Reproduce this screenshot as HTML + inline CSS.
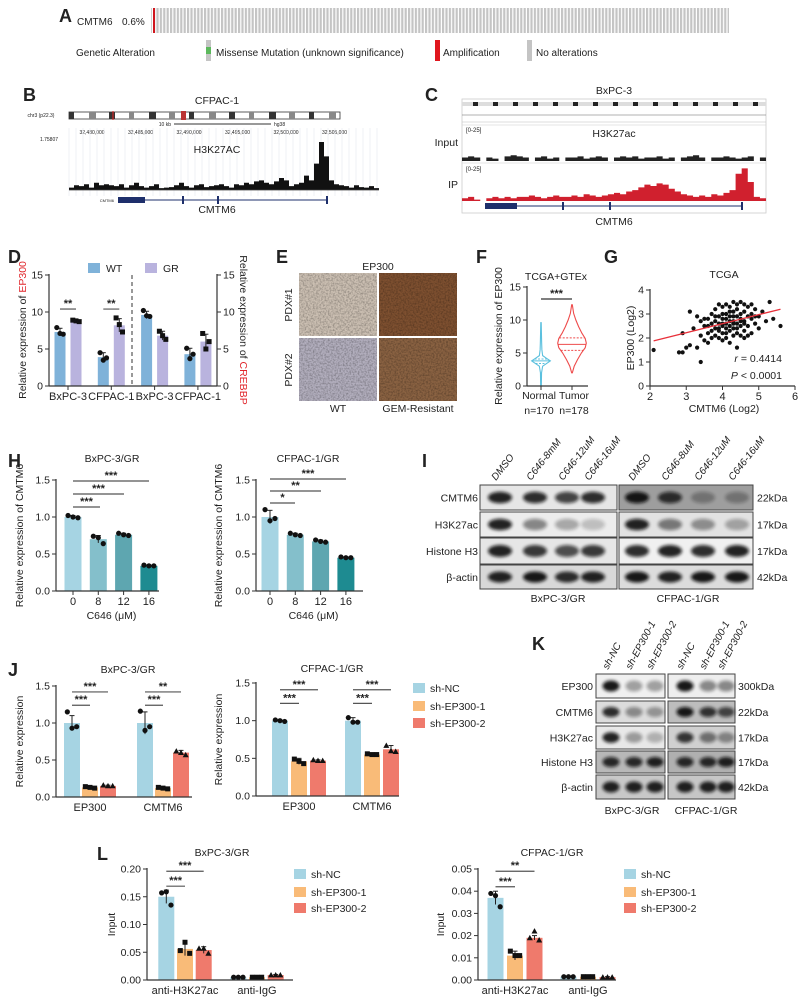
<!DOCTYPE html>
<html><head><meta charset="utf-8"><title>Figure</title>
<style>
html,body{margin:0;padding:0;background:#fff;}
svg{display:block;font-family:"Liberation Sans",Arial,sans-serif;}
text{fill:#222;}
</style></head>
<body>
<svg id="fig" width="798" height="1000" viewBox="0 0 798 1000" xmlns="http://www.w3.org/2000/svg">
<defs>
<filter id="blur" x="-30%" y="-60%" width="160%" height="220%"><feGaussianBlur stdDeviation="1.6"/></filter>
<filter id="tex" x="0" y="0" width="100%" height="100%">
<feTurbulence type="fractalNoise" baseFrequency="0.6" numOctaves="2" seed="3"/>
<feColorMatrix type="matrix" values="0 0 0 0 0  0 0 0 0 0  0 0 0 0 0  0 0 0 1.2 -0.45"/>
</filter>
<pattern id="strip" width="3.4" height="30" patternUnits="userSpaceOnUse"><rect x="0" y="0" width="2.2" height="30" fill="#c4c4c4"/></pattern>
</defs>
<rect x="0" y="0" width="798" height="1000" fill="#fff"/>
</svg>
<script>
// ---------- DATA ----------
const dCats = ['BxPC-3','CFPAC-1','BxPC-3','CFPAC-1'];
const dWT = [7.3, 3.9, 9.6, 4.3];
const dGR = [8.8, 8.2, 6.8, 6.0];
const dWTErr = [0.5, 0.6, 0.5, 0.8];
const dGRErr = [0.2, 0.9, 0.6, 1.0];
const dWTPts = [[7.9,7.1,7.0],[4.5,3.5,3.8],[10.2,9.5,9.4],[5.1,3.7,4.3]];
const dGRPts = [[8.9,8.8,8.7],[9.2,8.3,7.3],[7.4,6.8,6.3],[7.1,5.0,6.0]];

const hCats = ['0','8','12','16'];
const hBxVals = [1.0, 0.70, 0.76, 0.34];
const hBxErr = [0.02, 0.05, 0.02, 0.01];
const hBxPts = [[1.02,1.0,0.99],[0.74,0.72,0.64],[0.78,0.76,0.75],[0.35,0.34,0.34]];
const hCfVals = [1.0, 0.76, 0.67, 0.45];
const hCfErr = [0.09, 0.02, 0.02, 0.01];
const hCfPts = [[1.1,0.95,0.98],[0.78,0.76,0.75],[0.69,0.67,0.66],[0.46,0.45,0.45]];

const jCats = ['EP300','CMTM6'];
const jBxNC = [1.0, 1.0];   const jBxNCErr = [0.1, 0.15];
const jBx1 = [0.13, 0.12];  const jBx1Err = [0.01, 0.01];
const jBx2 = [0.15, 0.60];  const jBx2Err = [0.01, 0.03];
const jCfNC = [1.0, 1.0];   const jCfNCErr = [0.01, 0.04];
const jCf1 = [0.46, 0.55];  const jCf1Err = [0.04, 0.01];
const jCf2 = [0.47, 0.62];  const jCf2Err = [0.01, 0.05];

const lCats = ['anti-H3K27ac','anti-IgG'];
const lBxNC = [0.15, 0.005];  const lBxNCErr = [0.012, 0.0005];
const lBx1 = [0.056, 0.005];  const lBx1Err = [0.012, 0.0005];
const lBx2 = [0.054, 0.009];  const lBx2Err = [0.006, 0.001];
const lCfNC = [0.037, 0.0015]; const lCfNCErr = [0.003, 0.0002];
const lCf1 = [0.011, 0.0015];  const lCf1Err = [0.002, 0.0002];
const lCf2 = [0.019, 0.0013];  const lCf2Err = [0.001, 0.0002];

const fNormalLevels = [0.0, 2.0, 3.0, 3.4, 3.8, 4.2, 4.6, 5.5, 6.5, 8.0, 9.6];
const fNormalWidth  = [0.3, 0.5, 1.5, 5.0, 8.5, 5.0, 1.5, 0.8, 0.6, 0.4, 0.2];
const fTumorLevels = [2.0, 3.0, 4.0, 5.0, 5.8, 6.5, 7.2, 8.0, 9.0, 10.0, 11.0, 12.3];
const fTumorWidth  = [0.3, 2.0, 5.0, 8.5, 12.0, 13.0, 12.0, 9.0, 6.0, 3.5, 1.5, 0.3];
const fNormalStats = [3.4, 3.8, 4.1];
const fTumorStats = [5.4, 6.3, 7.3];

const gPoints = [[2.1,1.5],[2.8,1.4],[2.9,2.2],[2.9,1.4],[3.0,1.6],[3.1,1.7],[3.2,2.4],[3.3,1.6],[3.4,1.0],[3.4,2.1],[3.5,2.5],[3.5,1.9],[3.6,2.8],[3.6,2.2],[3.6,1.8],[3.7,2.6],[3.7,2.3],[3.7,3.0],[3.8,2.1],[3.8,2.7],[3.8,2.4],[3.8,3.2],[3.9,2.0],[3.9,2.6],[3.9,2.9],[3.9,2.3],[4.0,2.5],[4.0,2.8],[4.0,3.3],[4.0,2.2],[4.0,1.9],[4.1,2.6],[4.1,3.0],[4.1,2.4],[4.1,2.0],[4.1,3.4],[4.2,2.7],[4.2,2.3],[4.2,3.1],[4.2,2.5],[4.2,1.8],[4.3,2.9],[4.3,2.4],[4.3,3.5],[4.3,2.1],[4.3,2.7],[4.4,2.6],[4.4,3.2],[4.4,2.2],[4.4,2.9],[4.4,1.6],[4.5,2.5],[4.5,3.0],[4.5,2.8],[4.5,3.5],[4.6,2.7],[4.6,2.3],[4.6,3.1],[4.6,2.0],[4.7,2.9],[4.7,2.5],[4.7,3.3],[4.8,2.8],[4.8,2.2],[4.8,3.0],[4.9,2.6],[4.9,3.2],[5.0,2.9],[5.0,2.4],[5.1,3.1],[5.2,2.7],[5.3,3.5],[5.4,2.8],[5.6,2.5],[3.1,3.1],[3.3,2.9],[3.6,2.5],[3.9,3.4],[4.1,2.8],[4.3,3.1],[4.5,2.1],[4.7,2.1],[3.5,2.8],[4.0,3.0],[4.2,3.3],[4.4,3.4],[4.6,3.4],[3.8,2.9],[4.1,2.2],[4.3,2.6],[3.7,2.0],[4.9,2.9],[4.0,2.6],[4.2,2.9],[4.5,2.7],[4.8,3.4],[3.4,2.7],[4.6,2.6],[4.4,2.4],[3.9,2.4]];
const gFit = [[2.1,1.88],[5.6,3.2]];

const bCov = [0.05,0.1,0.08,0.12,0.05,0.15,0.1,0.12,0.1,0.08,0.12,0.05,0.1,0.15,0.08,0.05,0.08,0.12,0.04,0.05,0.06,0.1,0.15,0.08,0.05,0.1,0.12,0.06,0.08,0.1,0.12,0.08,0.05,0.12,0.1,0.15,0.12,0.18,0.2,0.15,0.12,0.18,0.25,0.2,0.08,0.12,0.15,0.3,0.2,0.55,1.0,0.7,0.2,0.12,0.1,0.08,0.05,0.1,0.06,0.05,0.08,0.04];
const cInput = [3,4,3,0,3,2,0,4,5,4,3,0,3,4,2,3,0,3,3,4,2,3,4,3,0,3,4,3,4,2,3,3,4,2,3,0,3,4,5,3,0,3,3,4,3,2,3,4,0,3];
const cIP = [2,3,1,0,2,3,2,3,2,3,3,4,3,2,3,4,3,3,4,3,5,4,3,4,5,6,5,7,8,10,12,11,13,12,9,7,5,4,3,4,3,5,4,6,8,20,24,14,3,2];

const iLanes = ['DMSO','C646-8mM','C646-12uM','C646-16uM','DMSO','C646-8uM','C646-12uM','C646-16uM'];
const iRows = ['CMTM6','H3K27ac','Histone H3','β-actin'];
const iKda = ['22kDa','17kDa','17kDa','42kDa'];
const iBands = [[0.9,0.85,0.75,0.85,0.95,0.8,0.3,0.3],[0.9,0.45,0.3,0.2,0.9,0.5,0.4,0.3],[0.9,0.8,0.7,0.8,0.85,0.9,0.85,0.9],[0.9,0.95,0.85,0.9,0.95,0.9,0.95,0.95]];
const kLanes = ['sh-NC','sh-EP300-1','sh-EP300-2','sh-NC','sh-EP300-1','sh-EP300-2'];
const kRows = ['EP300','CMTM6','H3K27ac','Histone H3','β-actin'];
const kKda = ['300kDa','22kDa','17kDa','17kDa','42kDa'];
const kBands = [[0.95,0.35,0.35,0.95,0.45,0.45],[0.85,0.4,0.35,0.95,0.8,0.7],[0.9,0.35,0.25,0.8,0.5,0.4],[0.85,0.85,0.9,0.85,0.85,0.9],[0.9,0.9,0.9,0.9,0.9,0.9]];

// ---------- HELPERS ----------
const NS = 'http://www.w3.org/2000/svg';
const svg = document.getElementById('fig');
function el(tag, attrs, parent, name) {
  const e = document.createElementNS(NS, tag);
  for (const k in attrs) e.setAttribute(k, attrs[k]);
  
  
  (parent || svg).appendChild(e);
  return e;
}
function T(parent, x, y, s, name, size, anchor, extra) {
  const a = {x: x, y: y, 'font-size': size || 10, 'text-anchor': anchor || 'middle'};
  if (extra) for (const k in extra) a[k] = extra[k];
  const e = el('text', a, parent, name);
  e.textContent = s;
  return e;
}
function L(parent, x1, y1, x2, y2, name, stroke, w, dash) {
  const a = {x1: x1, y1: y1, x2: x2, y2: y2, stroke: stroke || '#333', 'stroke-width': w || 1};
  if (dash) a['stroke-dasharray'] = dash;
  return el('line', a, parent, name);
}
function letter(x, y, s) { T(svg, x, y + 1, s, 'panel-label-' + s.toLowerCase(), 18, 'start', {'font-weight': 'bold', fill: '#111'}); }
function marker(parent, type, x, y, name) {
  if (type === 'circle') return el('circle', {cx: x, cy: y, r: 2.6, fill: '#111'}, parent, name);
  if (type === 'square') return el('rect', {x: x - 2.5, y: y - 2.5, width: 5, height: 5, fill: '#111'}, parent, name);
  return el('polygon', {points: (x) + ',' + (y - 3) + ' ' + (x - 3) + ',' + (y + 2.4) + ' ' + (x + 3) + ',' + (y + 2.4), fill: '#111'}, parent, name);
}
const ptOff = [-3.5, 0, 3.5];

function barChart(c) {
  const g = el('g', {}, svg, c.name);
  const ys = v => c.y0 - v / c.ymax * (c.y0 - c.yTop);
  const n = c.series.length;
  const xc = (gi, si) => c.gx0 + gi * c.gstep + (si - (n - 1) / 2) * c.boff;
  c.series.forEach((s, si) => {
    s.vals.forEach((v, gi) => {
      const cx = xc(gi, si);
      const col = s.colors ? s.colors[gi] : s.color;
      el('rect', {x: cx - c.bw / 2, y: ys(v), width: c.bw, height: c.y0 - ys(v), fill: col}, g, 'bar-' + s.key + '-' + c.cats[gi].toLowerCase());
      if (s.err) {
        const e = s.err[gi];
        L(g, cx, ys(v + e), cx, ys(Math.max(0, v - e)), 'error-bar', '#222', 1);
        L(g, cx - 2.5, ys(v + e), cx + 2.5, ys(v + e), 'error-cap', '#222', 1);
      }
      const pts = s.pts ? s.pts[gi] : [v, v, v];
      pts.forEach((p, k) => marker(g, s.marker, cx + ptOff[k] * (c.bw / 12), ys(p), 'data-point'));
    });
  });
  L(g, c.axisX, c.yTop - 1, c.axisX, c.y0, 'y-axis', '#333', 1.2);
  L(g, c.axisX, c.y0, c.axisEnd, c.y0, 'x-axis', '#333', 1.2);
  c.ticks.forEach(t => {
    L(g, c.axisX - 4, ys(t), c.axisX, ys(t), 'y-tick', '#333', 1);
    T(g, c.axisX - 6, ys(t) + 3.5, t.toFixed(c.dec), 'y-tick-label', 10.5, 'end');
  });
  c.cats.forEach((cat, gi) => {
    const cx = c.gx0 + gi * c.gstep;
    if (c.xTicks) L(g, cx, c.y0, cx, c.y0 + 4, 'x-tick', '#333', 1);
    T(g, cx, c.y0 + 14, cat, 'x-tick-label', 11);
  });
  (c.sig || []).forEach(s => {
    const x1 = xc(s[0], s[1]), x2 = xc(s[0], s[2]), y = ys(s[3]);
    L(g, x1, y, x2, y, 'significance-bar', '#555', 1.2);
    T(g, (x1 + x2) / 2, y - 2, s[4], 'significance-stars', 11, 'middle', {'font-weight': 'bold'});
  });
  if (c.title) T(g, c.titleX, c.titleY, c.title, 'chart-title', 10.5);
  if (c.ylabel) T(g, c.ylabelX, (c.y0 + c.yTop) / 2, c.ylabel, 'y-axis-title', 10.5, 'middle', {transform: 'rotate(-90 ' + c.ylabelX + ' ' + ((c.y0 + c.yTop) / 2) + ')'});
  if (c.xlabel) T(g, (c.axisX + c.axisEnd) / 2 + 4, c.y0 + 28, c.xlabel, 'x-axis-title', 10.5);
  return ys;
}
function legend(x, ys, labels, colors, name) {
  const g = el('g', {}, svg, name);
  labels.forEach((lab, i) => {
    el('rect', {x: x, y: ys[i] - 5, width: 12, height: 10, fill: colors[i]}, g, 'legend-swatch');
    T(g, x + 17, ys[i] + 4, lab, 'legend-entry', 10.5, 'start');
  });
}
function blot(x, y, w, h, centers, vals, bg, bw, name) {
  const g = el('g', {}, svg, name);
  el('rect', {x: x, y: y, width: w, height: h, fill: bg, stroke: '#444', 'stroke-width': 1}, g, 'blot-frame');
  centers.forEach((cx, i) => {
    el('ellipse', {cx: cx, cy: y + h / 2, rx: bw / 2, ry: h * 0.23, fill: '#111', opacity: vals[i], filter: 'url(#blur)'}, g, 'blot-band');
  });
}

// ---------- PANEL A ----------
letter(59, 21, 'A');
T(svg, 77, 25, 'CMTM6', 'gene-label', 10, 'start');
T(svg, 122, 25, '0.6%', 'alteration-frequency', 10, 'start');
el('rect', {x: 151, y: 8, width: 578, height: 25, fill: 'url(#strip)'}, svg, 'oncoprint-strip');
el('rect', {x: 153, y: 8, width: 2, height: 25, fill: '#d0161e'}, svg, 'amplification-sample');
T(svg, 76, 56, 'Genetic Alteration', 'legend-title', 10, 'start');
el('rect', {x: 206, y: 40, width: 5, height: 21, fill: '#c4c4c4'}, svg, 'legend-swatch-missense');
el('rect', {x: 206, y: 47, width: 5, height: 7, fill: '#5cb85c'}, svg, 'legend-swatch-missense-core');
T(svg, 216, 56, 'Missense Mutation (unknown significance)', 'legend-entry-missense', 10, 'start');
el('rect', {x: 435, y: 40, width: 5, height: 21, fill: '#e0161e'}, svg, 'legend-swatch-amplification');
T(svg, 443, 56, 'Amplification', 'legend-entry-amplification', 10, 'start');
el('rect', {x: 527, y: 40, width: 5, height: 21, fill: '#c4c4c4'}, svg, 'legend-swatch-no-alterations');
T(svg, 536, 56, 'No alterations', 'legend-entry-no-alterations', 10, 'start');

// ---------- PANEL B ----------
letter(23, 100, 'B');
(function () {
  const g = el('g', {}, svg, 'ucsc-track-b');
  T(g, 217, 104, 'CFPAC-1', 'track-title', 10.5);
  T(g, 41, 117, 'chr3 (p22.3)', 'chromosome-label', 5, 'middle');
  el('rect', {x: 69, y: 112, width: 271, height: 7, fill: '#fff', stroke: '#333', 'stroke-width': 0.8}, g, 'ideogram');
  for (let i = 0; i < 27; i++) {
    if (i % 2 === 0) el('rect', {x: 69 + i * 10, y: 112, width: 5 + (i % 3), height: 7, fill: i % 4 === 0 ? '#333' : '#888'}, g, 'ideogram-band');
  }
  el('rect', {x: 181, y: 111, width: 5, height: 9, fill: '#b33'}, g, 'centromere');
  L(g, 113, 111, 113, 120, 'ideogram-position', '#e22', 1);
  L(g, 174, 124, 271, 124, 'scale-bar', '#333', 1);
  T(g, 171, 126, '10 kb', 'scale-label', 5, 'end');
  T(g, 274, 126, 'hg38', 'assembly-label', 5, 'start');
  const coords = ['32,480,000', '32,485,000', '32,490,000', '32,495,000', '32,500,000', '32,505,000'];
  coords.forEach((s, i) => T(g, 92 + i * 48.5, 134, s, 'coordinate-label', 5, 'middle'));
  for (let i = 0; i < 45; i++) L(g, 69 + i * 7, 128, 69 + i * 7, 196, 'grid-line', '#e4e6ee', 0.6);
  T(g, 49, 141, '1.75807', 'track-max', 5, 'middle');
  T(g, 217, 153, 'H3K27AC', 'track-label', 10.5);
  const x0 = 69, x1 = 379, base = 190, hpx = 48, bw = (x1 - x0) / bCov.length;
  let d = 'M' + x0 + ',' + base;
  bCov.forEach((v, i) => { d += ' L' + (x0 + i * bw) + ',' + (base - v * hpx) + ' L' + (x0 + (i + 1) * bw) + ',' + (base - v * hpx); });
  d += ' L' + x1 + ',' + base + ' Z';
  el('path', {d: d, fill: '#111'}, g, 'h3k27ac-coverage');
  L(g, x0, base, x1, base, 'track-baseline', '#444', 0.8);
  L(g, 118, 200, 327, 200, 'gene-intron', '#1e2f6b', 1);
  el('rect', {x: 118, y: 197, width: 27, height: 6, fill: '#1e2f6b'}, g, 'gene-exon');
  [183, 218, 327].forEach((xx) => el('rect', {x: xx - 1, y: 196, width: 2, height: 8, fill: '#1e2f6b'}, g, 'gene-exon'));
  T(g, 114, 202, 'CMTM6', 'gene-name-small', 4, 'end', {fill: '#1e2f6b'});
  T(g, 217, 213, 'CMTM6', 'gene-name', 10.5, 'middle', {fill: '#1e2f6b'});
})();

// ---------- PANEL C ----------
letter(425, 100, 'C');
(function () {
  const g = el('g', {}, svg, 'igv-track-c');
  T(g, 614, 94, 'BxPC-3', 'track-title', 10.5);
  el('rect', {x: 462, y: 99, width: 304, height: 114, fill: '#fff', stroke: '#ccc', 'stroke-width': 0.8}, g, 'igv-frame');
  el('rect', {x: 462, y: 102, width: 304, height: 4, fill: '#ddd'}, g, 'igv-ideogram');
  for (let i = 0; i < 30; i++) if (i % 2) el('rect', {x: 463 + i * 10, y: 102, width: 5, height: 4, fill: '#222'}, g, 'igv-band');
  L(g, 462, 115, 766, 115, 'igv-ruler', '#666', 0.6);
  L(g, 462, 122, 766, 122, 'igv-ruler', '#bbb', 0.6);
  L(g, 462, 125, 766, 125, 'igv-divider', '#ccc', 0.6);
  T(g, 458, 146, 'Input', 'input-track-label', 10.5, 'end');
  T(g, 614, 137, 'H3K27ac', 'track-label', 10.5);
  T(g, 466, 132, '[0-25]', 'range-label', 6, 'start');
  T(g, 466, 171, '[0-25]', 'range-label', 6, 'start');
  T(g, 458, 188, 'IP', 'ip-track-label', 10.5, 'end');
  L(g, 462, 163, 766, 163, 'track-divider', '#ccc', 0.6);
  function cov(arr, base, hpx, color, name) {
    const x0 = 462, x1 = 766, bw = (x1 - x0) / arr.length;
    let d = 'M' + x0 + ',' + base;
    arr.forEach((v, i) => { const y = base - v / 25 * hpx; d += ' L' + (x0 + i * bw) + ',' + y + ' L' + (x0 + (i + 1) * bw) + ',' + y; });
    d += ' L' + x1 + ',' + base + ' Z';
    el('path', {d: d, fill: color}, g, name);
  }
  cov(cInput, 161, 29, '#222', 'input-coverage');
  cov(cIP, 201, 34, '#d0202e', 'ip-coverage');
  L(g, 485, 206, 742, 206, 'gene-intron', '#1e2f6b', 1);
  el('rect', {x: 485, y: 203, width: 32, height: 6, fill: '#1e2f6b'}, g, 'gene-exon');
  [563, 610, 742].forEach(xx => el('rect', {x: xx - 1, y: 202, width: 2, height: 8, fill: '#1e2f6b'}, g, 'gene-exon'));
  T(g, 614, 225, 'CMTM6', 'gene-name', 10.5, 'middle', {fill: '#1e2f6b'});
})();

// ---------- PANEL D ----------
letter(8, 262, 'D');
const dYs = barChart({name: 'chart-d', cats: dCats, y0: 386, yTop: 275, ymax: 15, axisX: 49, axisEnd: 217,
  gx0: 68, gstep: 43.3, boff: 16, bw: 11, ticks: [0, 5, 10, 15], dec: 0, xTicks: true,
  series: [{key: 'wt', vals: dWT, err: dWTErr, pts: dWTPts, color: '#7fb2d9', marker: 'circle'},
           {key: 'gr', vals: dGR, err: dGRErr, pts: dGRPts, color: '#b9b3de', marker: 'square'}],
  sig: [[0, 0, 1, 10.4, '**'], [1, 0, 1, 10.4, '**']]});
(function () {
  const g = el('g', {}, svg, 'chart-d-extras');
  L(g, 132, 275, 132, 386, 'divider-dashed', '#333', 1, '4,3');
  L(g, 217, 274, 217, 386, 'right-y-axis', '#333', 1.2);
  [0, 5, 10, 15].forEach(t => {
    L(g, 217, dYs(t), 221, dYs(t), 'right-y-tick', '#333', 1);
    T(g, 223, dYs(t) + 3.5, String(t), 'right-y-tick-label', 10.5, 'start');
  });
  const ly = 330;
  const t1 = T(g, 26, ly, '', 'y-axis-title', 10.5, 'middle', {transform: 'rotate(-90 26 ' + ly + ')'});
  const s1 = el('tspan', {}, t1, 'y-axis-title-prefix'); s1.textContent = 'Relative expression of ';
  const s2 = el('tspan', {fill: '#e0262b'}, t1, 'y-axis-title-gene'); s2.textContent = 'EP300';
  const t2 = T(g, 240, ly, '', 'right-y-axis-title', 10.5, 'middle', {transform: 'rotate(90 240 ' + ly + ')'});
  const s3 = el('tspan', {}, t2, 'right-y-axis-title-prefix'); s3.textContent = 'Relative expression of ';
  const s4 = el('tspan', {fill: '#e0262b'}, t2, 'right-y-axis-title-gene'); s4.textContent = 'CREBBP';
})();
(function () {
  const g = el('g', {}, svg, 'legend-d');
  el('rect', {x: 88, y: 263, width: 12, height: 10, fill: '#7fb2d9'}, g, 'legend-swatch-wt');
  T(g, 106, 272, 'WT', 'legend-entry-wt', 10.5, 'start');
  el('rect', {x: 145, y: 263, width: 12, height: 10, fill: '#b9b3de'}, g, 'legend-swatch-gr');
  T(g, 163, 272, 'GR', 'legend-entry-gr', 10.5, 'start');
})();

// ---------- PANEL E ----------
letter(276, 262, 'E');
(function () {
  const g = el('g', {}, svg, 'ihc-panel-e');
  T(g, 378, 270, 'EP300', 'ihc-title', 10.5);
  const tiles = [[299, 273, '#cbbfb2', 'pdx1-wt'], [379, 273, '#7e5030', 'pdx1-gem-resistant'], [299, 338, '#b2aebd', 'pdx2-wt'], [379, 338, '#8a6242', 'pdx2-gem-resistant']];
  tiles.forEach(t => {
    el('rect', {x: t[0], y: t[1], width: 78, height: 63, fill: t[2]}, g, 'ihc-image-' + t[3]);
    el('rect', {x: t[0], y: t[1], width: 78, height: 63, fill: '#000', filter: 'url(#tex)', opacity: 0.5}, g, 'ihc-texture');
  });
  T(g, 292, 305, 'PDX#1', 'row-label-pdx1', 10.5, 'middle', {transform: 'rotate(-90 292 305)'});
  T(g, 292, 370, 'PDX#2', 'row-label-pdx2', 10.5, 'middle', {transform: 'rotate(-90 292 370)'});
  T(g, 338, 412, 'WT', 'column-label-wt', 10.5);
  T(g, 418, 412, 'GEM-Resistant', 'column-label-gem-resistant', 10.5);
})();

// ---------- PANEL F ----------
letter(476, 262, 'F');
(function () {
  const g = el('g', {}, svg, 'violin-chart-f');
  const y0 = 386, yTop = 287, ys = v => y0 - v / 15 * (y0 - yTop);
  const axisX = 527, axisEnd = 588, xN = 541, xT = 572;
  T(g, 556, 280, 'TCGA+GTEx', 'chart-title', 10.5);
  function violin(cx, lev, wid, col, stats, name) {
    const sc = 1.1;
    let d = 'M' + cx + ',' + ys(lev[0]);
    lev.forEach((v, i) => { d += ' L' + (cx + wid[i] * sc) + ',' + ys(v); });
    for (let i = lev.length - 1; i >= 0; i--) d += ' L' + (cx - wid[i] * sc) + ',' + ys(lev[i]);
    d += ' Z';
    el('path', {d: d, fill: 'none', stroke: col, 'stroke-width': 1.1}, g, name);
    stats.forEach((s, k) => {
      let w = 0; for (let i = 0; i < lev.length - 1; i++) if (s >= lev[i] && s <= lev[i + 1]) w = wid[i] + (wid[i + 1] - wid[i]) * (s - lev[i]) / (lev[i + 1] - lev[i]);
      L(g, cx - w * sc, ys(s), cx + w * sc, ys(s), k === 1 ? 'median-line' : 'quartile-line', col, 1, k === 1 ? null : '2,1.5');
    });
  }
  violin(xN, fNormalLevels, fNormalWidth, '#5bc0de', fNormalStats, 'violin-normal');
  violin(xT, fTumorLevels, fTumorWidth, '#ee4b4b', fTumorStats, 'violin-tumor');
  L(g, axisX, yTop - 1, axisX, y0, 'y-axis', '#333', 1.2);
  L(g, axisX, y0, axisEnd, y0, 'x-axis', '#333', 1.2);
  [0, 5, 10, 15].forEach(t => { L(g, axisX - 4, ys(t), axisX, ys(t), 'y-tick', '#333', 1); T(g, axisX - 6, ys(t) + 3.5, String(t), 'y-tick-label', 10.5, 'end'); });
  L(g, xN, y0, xN, y0 + 4, 'x-tick', '#333', 1); L(g, xT, y0, xT, y0 + 4, 'x-tick', '#333', 1);
  T(g, xN - 2, 399, 'Normal', 'x-tick-label-normal', 10.5); T(g, xT + 2, 399, 'Tumor', 'x-tick-label-tumor', 10.5);
  T(g, xN - 2, 414, 'n=170', 'n-normal', 10.5); T(g, xT + 2, 414, 'n=178', 'n-tumor', 10.5);
  L(g, xN, 299, xT, 299, 'significance-bar', '#333', 1.2);
  T(g, (xN + xT) / 2, 297, '***', 'significance-stars', 11, 'middle', {'font-weight': 'bold'});
  T(g, 502, 336, 'Relative expression of EP300', 'y-axis-title', 10.5, 'middle', {transform: 'rotate(-90 502 336)'});
})();

// ---------- PANEL G ----------
letter(604, 262, 'G');
(function () {
  const g = el('g', {}, svg, 'scatter-chart-g');
  const xs = v => 650 + (v - 2) * 36.25, ys = v => 386 - v * 24;
  T(g, 724, 278, 'TCGA', 'chart-title', 10.5);
  gPoints.forEach(p => el('circle', {cx: xs(p[0]), cy: ys(p[1]), r: 2.1, fill: '#111'}, g, 'scatter-point'));
  L(g, xs(gFit[0][0]), ys(gFit[0][1]), xs(gFit[1][0]), ys(gFit[1][1]), 'regression-line', '#e8303a', 1.3);
  L(g, 650, ys(4) - 1, 650, 386, 'y-axis', '#333', 1.2);
  L(g, 650, 386, 795, 386, 'x-axis', '#333', 1.2);
  [0, 1, 2, 3, 4].forEach(t => { L(g, 646, ys(t), 650, ys(t), 'y-tick', '#333', 1); T(g, 644, ys(t) + 3.5, String(t), 'y-tick-label', 10.5, 'end'); });
  [2, 3, 4, 5, 6].forEach(t => { L(g, xs(t), 386, xs(t), 390, 'x-tick', '#333', 1); T(g, xs(t), 400, String(t), 'x-tick-label', 11); });
  T(g, 724, 412, 'CMTM6 (Log2)', 'x-axis-title', 10.5);
  T(g, 634, 338, 'EP300 (Log2)', 'y-axis-title', 10.5, 'middle', {transform: 'rotate(-90 634 338)'});
  const r = T(g, 782, 362, '', 'correlation-r', 10.5, 'end');
  const r1 = el('tspan', {'font-style': 'italic'}, r, 'r-symbol'); r1.textContent = 'r';
  const r2 = el('tspan', {}, r, 'r-value'); r2.textContent = ' = 0.4414';
  const p = T(g, 782, 379, '', 'p-value', 10.5, 'end');
  const p1 = el('tspan', {'font-style': 'italic'}, p, 'p-symbol'); p1.textContent = 'P';
  const p2 = el('tspan', {}, p, 'p-text'); p2.textContent = ' < 0.0001';
})();

// ---------- PANEL H ----------
letter(8, 466, 'H');
const hBlues = ['#a6d4e3', '#84bfcb', '#5ea6b0', '#1e8b91'];
barChart({name: 'chart-h-bxpc3', cats: hCats, y0: 591, yTop: 480, ymax: 1.5, axisX: 56, axisEnd: 159,
  gx0: 73, gstep: 25.3, boff: 0, bw: 17, ticks: [0, 0.5, 1.0, 1.5], dec: 1, xTicks: true,
  series: [{key: 'cmtm6', vals: hBxVals, err: hBxErr, pts: hBxPts, colors: hBlues, marker: 'circle'}],
  title: 'BxPC-3/GR', titleX: 112, titleY: 462, ylabel: 'Relative expression of CMTM6', ylabelX: 23, xlabel: 'C646 (μM)',
  sig: []});
barChart({name: 'chart-h-cfpac1', cats: hCats, y0: 591, yTop: 480, ymax: 1.5, axisX: 256, axisEnd: 363,
  gx0: 270, gstep: 25.3, boff: 0, bw: 17, ticks: [0, 0.5, 1.0, 1.5], dec: 1, xTicks: true,
  series: [{key: 'cmtm6', vals: hCfVals, err: hCfErr, pts: hCfPts, colors: hBlues, marker: 'circle'}],
  title: 'CFPAC-1/GR', titleX: 308, titleY: 462, ylabel: 'Relative expression of CMTM6', ylabelX: 222, xlabel: 'C646 (μM)',
  sig: []});
(function () {
  const g = el('g', {}, svg, 'chart-h-significance');
  const hSig = [[73, 149, 481, '***'], [73, 124, 494, '***'], [73, 100, 507, '***'], [270, 346, 479, '***'], [270, 321, 491, '**'], [270, 295, 503, '*']];
  hSig.forEach(s => { L(g, s[0], s[2], s[1], s[2], 'significance-bar', '#555', 1.2); T(g, (s[0] + s[1]) / 2, s[2] - 2, s[3], 'significance-stars', 11, 'middle', {'font-weight': 'bold'}); });
})();

// ---------- PANEL I ----------
letter(422, 466, 'I');
(function () {
  const centers = [500, 535, 567, 593, 637, 670, 703, 737];
  const rowsY = [[485, 25], [512, 25], [538, 26], [565, 24]];
  const bgs = [['#e6e6e6', '#9e9e9e'], ['#ececec', '#e2e2e2'], ['#e6e6e6', '#f0f0f0'], ['#d8d8d8', '#dcdcdc']];
  iRows.forEach((r, ri) => {
    const y = rowsY[ri][0], h = rowsY[ri][1];
    blot(480, y, 137, h, centers.slice(0, 4), iBands[ri].slice(0, 4), bgs[ri][0], 24, 'blot-i-bxpc3-' + r.toLowerCase().replace(/\s/g, '-'));
    blot(619, y, 134, h, centers.slice(4), iBands[ri].slice(4), bgs[ri][1], 24, 'blot-i-cfpac1-' + r.toLowerCase().replace(/\s/g, '-'));
    T(svg, 478, y + h / 2 + 4, r, 'blot-row-label', 10.5, 'end');
    T(svg, 757, y + h / 2 + 4, iKda[ri], 'blot-kda-label', 10.5, 'start');
  });
  iLanes.forEach((s, i) => T(svg, centers[i] - 4, 481, s, 'lane-label', 10, 'start', {transform: 'rotate(-52 ' + (centers[i] - 4) + ' 481)', 'font-style': 'italic'}));
  T(svg, 558, 602, 'BxPC-3/GR', 'blot-group-label', 10.5);
  T(svg, 688, 602, 'CFPAC-1/GR', 'blot-group-label', 10.5);
})();

// ---------- PANEL J ----------
letter(8, 675, 'J');
const shColors = ['#a6d4e3', '#f9bb78', '#ef7a6c'];
barChart({name: 'chart-j-bxpc3', cats: jCats, y0: 797, yTop: 686, ymax: 1.5, axisX: 56, axisEnd: 192,
  gx0: 90, gstep: 73, boff: 18, bw: 16, ticks: [0, 0.5, 1.0, 1.5], dec: 1,
  series: [{key: 'sh-nc', vals: jBxNC, err: jBxNCErr, pts: [[1.15, 0.93, 0.95], [1.16, 0.9, 0.95]], color: shColors[0], marker: 'circle'},
           {key: 'sh-ep300-1', vals: jBx1, err: jBx1Err, pts: [[0.14, 0.13, 0.12], [0.13, 0.12, 0.11]], color: shColors[1], marker: 'square'},
           {key: 'sh-ep300-2', vals: jBx2, err: jBx2Err, pts: [[0.16, 0.15, 0.15], [0.62, 0.60, 0.57]], color: shColors[2], marker: 'triangle'}],
  sig: [[0, 0, 2, 1.42, '***'], [0, 0, 1, 1.24, '***'], [1, 0, 2, 1.42, '**'], [1, 0, 1, 1.24, '***']],
  title: 'BxPC-3/GR', titleX: 128, titleY: 673, ylabel: 'Relative expression', ylabelX: 23});
barChart({name: 'chart-j-cfpac1', cats: jCats, y0: 796, yTop: 683, ymax: 1.5, axisX: 256, axisEnd: 399,
  gx0: 299, gstep: 73, boff: 19, bw: 16, ticks: [0, 0.5, 1.0, 1.5], dec: 1,
  series: [{key: 'sh-nc', vals: jCfNC, err: jCfNCErr, pts: [[1.01, 1.0, 0.99], [1.04, 0.98, 0.98]], color: shColors[0], marker: 'circle'},
           {key: 'sh-ep300-1', vals: jCf1, err: jCf1Err, pts: [[0.49, 0.46, 0.43], [0.56, 0.55, 0.55]], color: shColors[1], marker: 'square'},
           {key: 'sh-ep300-2', vals: jCf2, err: jCf2Err, pts: [[0.48, 0.47, 0.47], [0.67, 0.60, 0.59]], color: shColors[2], marker: 'triangle'}],
  sig: [[0, 0, 2, 1.41, '***'], [0, 0, 1, 1.23, '***'], [1, 0, 2, 1.41, '***'], [1, 0, 1, 1.23, '***']],
  title: 'CFPAC-1/GR', titleX: 332, titleY: 672, ylabel: 'Relative expression', ylabelX: 222});
legend(413, [688, 706, 723], ['sh-NC', 'sh-EP300-1', 'sh-EP300-2'], shColors, 'legend-j');

// ---------- PANEL K ----------
letter(532, 649, 'K');
(function () {
  const centers = [611, 634, 655, 685, 708, 726];
  const rowsY = [[674, 24], [701, 22], [726, 23], [751, 22], [775, 24]];
  const bgs = [['#f0f0f0', '#eeeeee'], ['#dcdcdc', '#bdbdbd'], ['#e8e8e8', '#d0d0d0'], ['#b8b8b8', '#b0b0b0'], ['#c8c8c8', '#c6c6c6']];
  kRows.forEach((r, ri) => {
    const y = rowsY[ri][0], h = rowsY[ri][1];
    blot(596, y, 69, h, centers.slice(0, 3), kBands[ri].slice(0, 3), bgs[ri][0], 17, 'blot-k-bxpc3-' + r.toLowerCase().replace(/\s/g, '-'));
    blot(668, y, 67, h, centers.slice(3), kBands[ri].slice(3), bgs[ri][1], 17, 'blot-k-cfpac1-' + r.toLowerCase().replace(/\s/g, '-'));
    T(svg, 593, y + h / 2 + 4, r, 'blot-row-label', 10.5, 'end');
    T(svg, 738, y + h / 2 + 4, kKda[ri], 'blot-kda-label', 10.5, 'start');
  });
  kLanes.forEach((s, i) => T(svg, centers[i] - 3, 670, s, 'lane-label', 10, 'start', {transform: 'rotate(-62 ' + (centers[i] - 3) + ' 670)', 'font-style': 'italic'}));
  T(svg, 632, 814, 'BxPC-3/GR', 'blot-group-label', 10.5);
  T(svg, 706, 814, 'CFPAC-1/GR', 'blot-group-label', 10.5);
})();

// ---------- PANEL L ----------
letter(97, 859, 'L');
barChart({name: 'chart-l-bxpc3', cats: lCats, y0: 980, yTop: 869, ymax: 0.2, axisX: 147, axisEnd: 293,
  gx0: 185, gstep: 72, boff: 18.7, bw: 16, ticks: [0, 0.05, 0.10, 0.15, 0.20], dec: 2,
  series: [{key: 'sh-nc', vals: lBxNC, err: lBxNCErr, pts: [[0.157, 0.159, 0.135], [0.005, 0.005, 0.005]], color: shColors[0], marker: 'circle'},
           {key: 'sh-ep300-1', vals: lBx1, err: lBx1Err, pts: [[0.053, 0.068, 0.048], [0.005, 0.005, 0.005]], color: shColors[1], marker: 'square'},
           {key: 'sh-ep300-2', vals: lBx2, err: lBx2Err, pts: [[0.057, 0.057, 0.048], [0.009, 0.009, 0.009]], color: shColors[2], marker: 'triangle'}],
  sig: [[0, 0, 2, 0.196, '***'], [0, 0, 1, 0.169, '***']],
  title: 'BxPC-3/GR', titleX: 222, titleY: 856, ylabel: 'Input', ylabelX: 115});
legend(294, [874, 892, 908], ['sh-NC', 'sh-EP300-1', 'sh-EP300-2'], shColors, 'legend-l-bxpc3');
barChart({name: 'chart-l-cfpac1', cats: lCats, y0: 980, yTop: 869, ymax: 0.05, axisX: 478, axisEnd: 616,
  gx0: 515, gstep: 73, boff: 19.5, bw: 16, ticks: [0, 0.01, 0.02, 0.03, 0.04, 0.05], dec: 2,
  series: [{key: 'sh-nc', vals: lCfNC, err: lCfNCErr, pts: [[0.039, 0.038, 0.033], [0.0015, 0.0015, 0.0015]], color: shColors[0], marker: 'circle'},
           {key: 'sh-ep300-1', vals: lCf1, err: lCf1Err, pts: [[0.013, 0.011, 0.011], [0.0015, 0.0015, 0.0015]], color: shColors[1], marker: 'square'},
           {key: 'sh-ep300-2', vals: lCf2, err: lCf2Err, pts: [[0.019, 0.022, 0.018], [0.0013, 0.0013, 0.0013]], color: shColors[2], marker: 'triangle'}],
  sig: [[0, 0, 2, 0.049, '**'], [0, 0, 1, 0.042, '***']],
  title: 'CFPAC-1/GR', titleX: 552, titleY: 856, ylabel: 'Input', ylabelX: 444});
legend(624, [874, 892, 908], ['sh-NC', 'sh-EP300-1', 'sh-EP300-2'], shColors, 'legend-l-cfpac1');
</script>
</body></html>
